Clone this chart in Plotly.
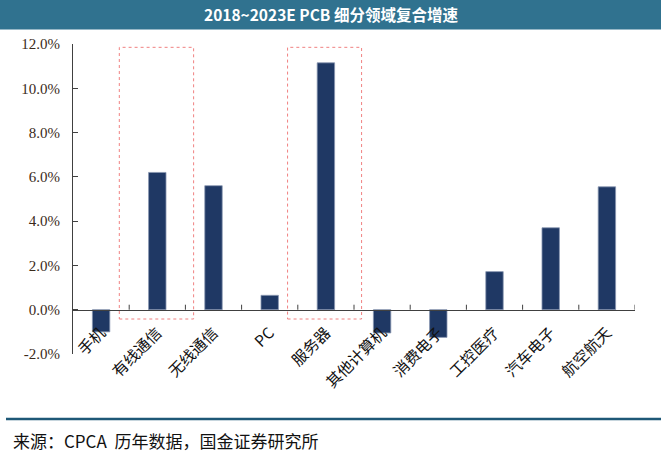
import plotly.graph_objects as go

categories = ["手机", "有线通信", "无线通信", "PC", "服务器", "其他计算机", "消费电子", "工控医疗", "汽车电子", "航空航天"]
cagr = [-1.0, 6.2, 5.6, 0.65, 11.15, -1.05, -1.25, 1.72, 3.7, 5.55]
ytick_vals = [-2, 0, 2, 4, 6, 8, 10, 12]
ytick_text = ["-2.0%", "0.0%", "2.0%", "4.0%", "6.0%", "8.0%", "10.0%", "12.0%"]
title_text = "2018~2023E PCB 细分领域复合增速"
source_text = "来源：CPCA 历年数据，国金证券研究所"

W, H = 661, 458
L, R, T, B = 73, 26, 44, 104
pw, ph = W - L - R, H - T - B
y_min, y_max = -2, 12

def px_x(p):
    return (p - L) / pw

def px_y(p):
    return (H - B - p) / ph

fig = go.Figure()
fig.add_trace(go.Bar(
    x=categories, y=cagr,
    marker=dict(color="#1F3864", line=dict(color="#8896b0", width=0.8)),
    width=0.31,
))

shapes = []
# title bar
shapes.append(dict(type="rect", xref="paper", yref="paper",
                   x0=px_x(0), x1=px_x(W), y0=px_y(29.5), y1=px_y(-2),
                   fillcolor="#30728F", line=dict(width=0), layer="below"))
# footer line
shapes.append(dict(type="line", xref="paper", yref="paper",
                   x0=px_x(6), x1=px_x(W), y0=px_y(419), y1=px_y(419),
                   line=dict(color="#1E5877", width=2.5)))
# category boundary tick marks on the zero axis (pointing up)
tick_len_units = 5 * (y_max - y_min) / ph
for i in range(len(categories)):
    xb = i + 0.5
    shapes.append(dict(type="line", xref="x", yref="y", x0=xb, x1=xb, y0=0, y1=tick_len_units,
                       line=dict(color="#404040", width=1)))
# highlight boxes
for x0, x1 in [(0.324, 1.646), (3.318, 4.635)]:
    shapes.append(dict(type="rect", xref="x", yref="y", x0=x0, x1=x1, y0=-0.42, y1=11.85,
                       line=dict(color="#F08080", width=1, dash="dot"), fillcolor="rgba(0,0,0,0)"))

fig.update_layout(
    width=W, height=H,
    margin=dict(l=L, r=R, t=T, b=B),
    paper_bgcolor="white", plot_bgcolor="white",
    showlegend=False,
    shapes=shapes,
    annotations=[
        dict(text="<b>" + title_text + "</b>", xref="paper", yref="paper",
             x=px_x(W / 2), y=px_y(14.5), xanchor="center", yanchor="middle",
             showarrow=False, font=dict(family="Noto Sans CJK SC", size=15.5, color="white")),
        dict(text=source_text.replace("CPCA ", "CPCA  "), xref="paper", yref="paper",
             x=px_x(11), y=px_y(440), xanchor="left", yanchor="middle",
             showarrow=False, font=dict(family="Noto Sans CJK SC", size=17, color="#111111")),
    ],
    xaxis=dict(
        type="category",
        range=[-0.5, 9.5],
        anchor="free", position=2 / 14,
        showline=True, linecolor="#404040", linewidth=1,
        ticks="",
        tickangle=-45,
        ticklabelstandoff=7,
        tickfont=dict(family="Noto Sans CJK SC", size=15.5, color="#111111"),
        showgrid=False, zeroline=False,
    ),
    yaxis=dict(
        range=[y_min, y_max],
        tickvals=ytick_vals, ticktext=ytick_text,
        showline=True, linecolor="#404040", linewidth=1,
        ticks="inside", ticklen=5, tickcolor="#404040",
        ticklabelstandoff=9,
        tickfont=dict(family="Liberation Serif", size=15, color="#3a2a1a"),
        showgrid=False, zeroline=False,
    ),
)

fig.write_html("out.html")
